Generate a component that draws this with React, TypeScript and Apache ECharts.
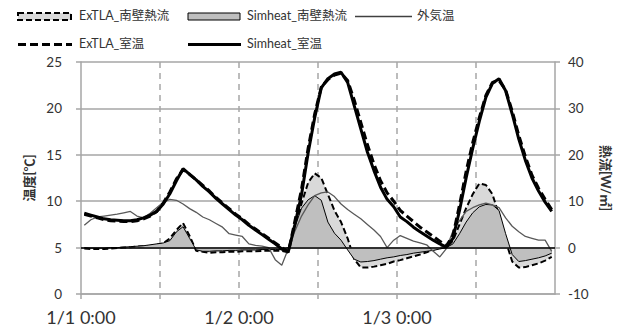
import React, { useEffect, useRef } from "react";
import * as echarts from "echarts";

// Hourly categories (72 hours, 1/1 0:00 to 1/3 23:00), plotted at hour centres
const hourCount = 72;
const xTickLabels = ["1/1 0:00", "1/2 0:00", "1/3 0:00"];
const tempTicks = { min: 0, max: 25, interval: 5 };
const fluxTicks = { min: -10, max: 40, interval: 10 };

const simheatRoom = [
  8.7, 8.5, 8.3, 8.1, 8.0, 7.95, 7.9, 7.9, 8.0, 8.2,
  8.5, 8.9, 9.7, 10.8, 12.2, 13.5, 12.9, 12.3, 11.6, 11.0,
  10.3, 9.7, 9.1, 8.5, 8.0, 7.4, 6.9, 6.4, 5.9, 5.4,
  4.85, 4.6, 7.5, 10.7, 15.2, 19.0, 22.2, 23.2, 23.7, 23.9,
  22.8, 20.3, 17.8, 15.3, 13.3, 11.5, 10.2, 9.4, 8.3, 7.8,
  7.2, 6.7, 6.25, 5.8, 5.4, 5.05, 6.0, 9.0, 12.5, 15.7,
  18.6, 21.2, 22.7, 23.2, 21.9, 19.4, 16.7, 14.4, 12.5, 11.1,
  9.9, 8.9,
];

const extlaRoom = [
  8.6, 8.4, 8.2, 8.0, 7.9, 7.85, 7.8, 7.8, 7.9, 8.1,
  8.4, 8.9, 9.8, 11.0, 12.4, 13.4, 12.9, 12.3, 11.7, 11.1,
  10.4, 9.8, 9.2, 8.6, 8.1, 7.5, 7.0, 6.5, 6.0, 5.5,
  5.0, 4.5, 7.9, 11.3, 15.7, 19.4, 22.3, 23.1, 23.6, 23.8,
  23.0, 20.9, 18.5, 16.1, 14.0, 12.2, 10.9, 10.0, 9.0, 8.4,
  7.8, 7.2, 6.7, 6.2, 5.7, 5.2, 6.3, 9.6, 13.2, 16.3,
  19.0, 21.4, 22.8, 23.0, 22.0, 19.7, 17.1, 14.8, 12.8, 11.4,
  10.2, 9.1,
];

const outdoorTemp = [
  7.4, 8.0, 8.3, 8.4, 8.5, 8.6, 8.75, 8.9, 8.4, 8.2,
  8.7, 9.3, 9.9, 10.2, 10.1, 9.7, 9.2, 8.8, 8.3, 8.0,
  7.6, 7.2, 6.5, 6.35, 6.2, 5.4, 5.25, 5.15, 5.0, 3.7,
  3.1, 4.9, 6.8, 8.4, 9.6, 10.6, 10.9, 11.0, 10.5, 9.7,
  9.1, 8.6, 8.1, 7.5, 6.9, 6.2, 5.0, 5.8, 6.3, 6.0,
  5.7, 5.5, 5.3, 4.6, 4.0, 4.9, 6.8, 7.9, 8.9, 9.3,
  9.6, 9.8, 9.6, 9.3, 8.2, 7.3, 6.7, 6.2, 6.0, 5.8,
  5.8, 4.6,
];

const simheatFlux = [
  0.0, -0.1, -0.1, -0.1, 0.0, 0.0, 0.1, 0.2, 0.3, 0.4,
  0.6, 0.8, 1.0, 1.5, 3.4, 4.5, 2.0, -0.5, -0.8, -0.8,
  -0.7, -0.7, -0.6, -0.6, -0.5, -0.5, -0.5, -0.4, -0.4, -0.4,
  -0.4, 0.0, 4.5, 8.5, 10.3, 11.2, 10.2, 5.5, 3.1, 1.6,
  -0.5, -2.5, -3.1, -3.0, -2.8, -2.5, -2.2, -2.0, -1.7, -1.5,
  -1.2, -1.0, -0.8, -0.6, -0.3, 0.0, 0.8, 3.0, 5.5, 7.5,
  8.8, 9.3, 9.2, 8.0, 3.0, -1.5, -3.0, -2.8, -2.5, -2.2,
  -1.8, -1.2,
];

const extlaFlux = [
  -0.2, -0.3, -0.3, -0.3, -0.2, -0.1, 0.0, 0.1, 0.2, 0.3,
  0.4, 0.6, 0.9, 2.0, 3.8, 5.3, 2.5, -0.7, -0.9, -1.1,
  -1.0, -1.0, -0.9, -0.9, -0.8, -0.8, -0.8, -0.7, -0.7, -0.7,
  -0.7, -1.0, 4.0, 9.5, 14.0, 16.0, 15.0, 11.5, 8.0, 5.5,
  2.0, -2.5, -4.3, -4.3, -4.1, -3.8, -3.5, -3.0, -2.7, -2.3,
  -1.9, -1.5, -1.0, -0.5, 0.0, 0.0, 1.5, 5.0, 8.5, 11.5,
  13.8, 13.5, 11.5, 7.0, 1.5, -3.0, -4.3, -4.2, -3.8, -3.4,
  -2.8, -2.0,
];

const toPoints = (arr: number[]) => arr.map((v, i) => [i + 0.5, v]);

const FONT = "Lato, 'Noto Sans CJK JP', sans-serif";
const TEXT = "#333333";
const GRID = "#a6a6a6";

export default function App() {
  const ref = useRef<HTMLDivElement>(null);

  useEffect(() => {
    if (!ref.current) return;
    const chart = echarts.init(ref.current, null, { renderer: "svg" });

    const legendText = (x: number, y: number, text: string) => ({
      type: "text",
      left: x,
      top: y - 8,
      style: { text, fill: TEXT, font: `12.5px ${FONT}` },
    });

    const option: any = {
      animation: false,
      backgroundColor: "#ffffff",
      textStyle: { fontFamily: FONT },
      grid: { left: 81, right: 67, top: 62, bottom: 40, containLabel: false },
      xAxis: {
        type: "value",
        min: 0,
        max: hourCount,
        interval: 12,
        axisLine: { show: true, onZero: false, lineStyle: { color: GRID, width: 1.5 } },
        axisTick: { show: true, inside: false, length: 5, lineStyle: { color: GRID, width: 1.5 } },
        axisLabel: {
          color: TEXT,
          fontSize: 18,
          margin: 14,
          fontFamily: FONT,
          showMaxLabel: false,
          formatter: (v: number) =>
            v % 24 === 0 && v / 24 < xTickLabels.length ? xTickLabels[v / 24] : "",
        },
        splitLine: {
          show: true,
          showMinLine: false,
          showMaxLine: false,
          lineStyle: { color: GRID, width: 1.5, type: [6, 5] },
        },
      },
      yAxis: [
        {
          type: "value",
          ...tempTicks,
          name: "温度[℃]",
          nameLocation: "middle",
          nameRotate: 90,
          nameGap: 40,
          nameTextStyle: { color: TEXT, fontSize: 13, fontWeight: "bold", fontFamily: FONT },
          axisLine: { show: true, lineStyle: { color: GRID, width: 1.5 } },
          axisTick: { show: true, length: 5, lineStyle: { color: GRID, width: 1.5 } },
          axisLabel: { color: TEXT, fontSize: 13.5, margin: 19, fontFamily: FONT },
          splitLine: { show: true, lineStyle: { color: GRID, width: 1.5 } },
        },
        {
          type: "value",
          ...fluxTicks,
          position: "right",
          name: "熱流[W/㎡]",
          nameLocation: "middle",
          nameRotate: -90,
          nameGap: 40,
          nameTextStyle: { color: TEXT, fontSize: 13, fontWeight: "bold", fontFamily: FONT },
          axisLine: { show: true, lineStyle: { color: GRID, width: 1.5 } },
          axisTick: { show: true, length: 5, lineStyle: { color: GRID, width: 1.5 } },
          axisLabel: { color: TEXT, fontSize: 13.5, margin: 13, fontFamily: FONT },
          splitLine: { show: false },
        },
      ],
      series: [
        {
          name: "ExTLA_南壁熱流",
          type: "line",
          yAxisIndex: 1,
          data: toPoints(extlaFlux),
          showSymbol: false,
          symbol: "none",
          lineStyle: { color: "#000000", width: 2, type: [6, 3] },
          areaStyle: { color: "#d9d9d9", opacity: 1, origin: 0 },
          z: 2,
        },
        {
          name: "Simheat_南壁熱流",
          type: "line",
          yAxisIndex: 1,
          data: toPoints(simheatFlux),
          showSymbol: false,
          symbol: "none",
          lineStyle: { color: "#000000", width: 1 },
          areaStyle: { color: "#bfbfbf", opacity: 1, origin: 0 },
          markLine: {
            silent: true,
            symbol: ["none", "none"],
            label: { show: false },
            lineStyle: { color: "#000000", width: 1.5, type: "solid" },
            data: [{ yAxis: 0 }],
          },
          z: 3,
        },
        {
          name: "外気温",
          type: "line",
          yAxisIndex: 0,
          data: toPoints(outdoorTemp),
          showSymbol: false,
          symbol: "none",
          lineStyle: { color: "#595959", width: 1.3 },
          z: 4,
        },
        {
          name: "Simheat_室温",
          type: "line",
          yAxisIndex: 0,
          data: toPoints(simheatRoom),
          showSymbol: false,
          symbol: "none",
          lineStyle: { color: "#000000", width: 3 },
          z: 5,
        },
        {
          name: "ExTLA_室温",
          type: "line",
          yAxisIndex: 0,
          data: toPoints(extlaRoom),
          showSymbol: false,
          symbol: "none",
          lineStyle: { color: "#000000", width: 3, type: [8, 4] },
          z: 6,
        },
      ],
      graphic: [
        {
          type: "rect",
          shape: { x: 18, y: 13, width: 53, height: 7 },
          style: { fill: "#d9d9d9", stroke: "#000000", lineWidth: 2, lineDash: [6, 3] },
        },
        legendText(79, 17, "ExTLA_南壁熱流"),
        {
          type: "rect",
          shape: { x: 188, y: 13, width: 52, height: 7 },
          style: { fill: "#bfbfbf", stroke: "#000000", lineWidth: 1 },
        },
        legendText(247, 17, "Simheat_南壁熱流"),
        {
          type: "line",
          shape: { x1: 355, y1: 16.5, x2: 412, y2: 16.5 },
          style: { stroke: "#404040", lineWidth: 1.3 },
        },
        legendText(417, 17, "外気温"),
        {
          type: "line",
          shape: { x1: 18, y1: 44.5, x2: 72, y2: 44.5 },
          style: { stroke: "#000000", lineWidth: 3, lineDash: [8, 4] },
        },
        legendText(79, 45, "ExTLA_室温"),
        {
          type: "line",
          shape: { x1: 188, y1: 44.5, x2: 241, y2: 44.5 },
          style: { stroke: "#000000", lineWidth: 3 },
        },
        legendText(247, 45, "Simheat_室温"),
      ],
    };

    chart.setOption(option);
    return () => chart.dispose();
  }, []);

  return (
    <div
      ref={ref}
      style={{ position: "absolute", left: 0, top: 0, width: 622, height: 334 }}
    />
  );
}
